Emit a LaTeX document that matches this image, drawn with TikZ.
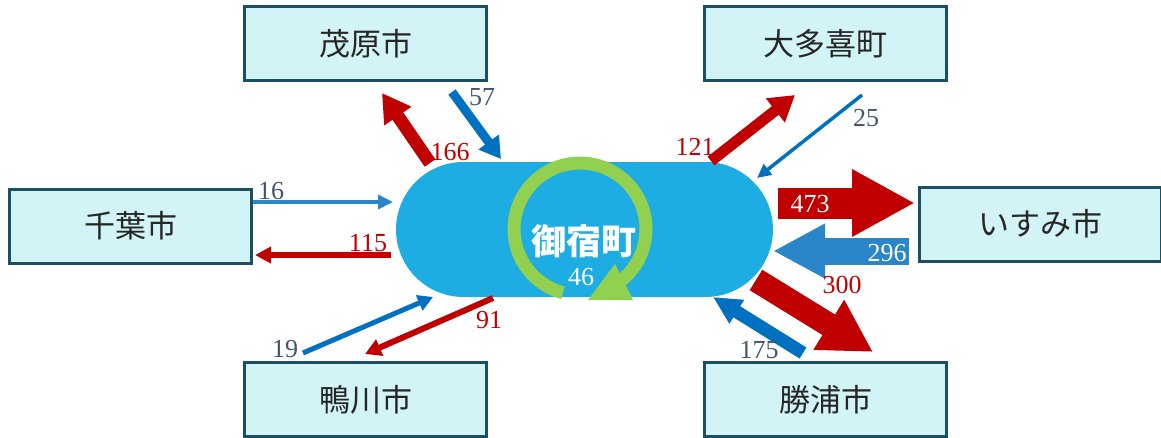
\documentclass[tikz,border=0pt]{standalone}
\usepackage{fontspec}
\setmainfont{Liberation Serif}
\newfontfamily\jp{Noto Sans CJK JP}
\usetikzlibrary{arrows.meta}
\definecolor{boxfill}{HTML}{D3F4F6}
\definecolor{boxline}{HTML}{1B4F63}
\definecolor{hub}{HTML}{1EADE2}
\definecolor{ring}{HTML}{92D050}
\definecolor{outred}{HTML}{C00000}
\definecolor{inblue}{HTML}{0070C0}
\definecolor{inblueL}{HTML}{2A86C9}
\definecolor{numgrey}{HTML}{44546A}
\tikzset{
  city/.style={draw=boxline, fill=boxfill, line width=3pt, minimum width=242pt, minimum height=74pt, inner sep=0pt, font=\jp\fontsize{31}{36}\selectfont, text=black!85},
  flow/.style n args={4}{draw=#4, line width=#1, -{Triangle[width=#2,length=#3]}},
  num/.style={font=\fontsize{26}{28}\selectfont, inner sep=0pt},
}
\begin{document}
\begin{tikzpicture}[x=1pt,y=-1pt]
\useasboundingbox (0,0) rectangle (1161,437);
% boxes
\node[city] (mobara) at (365.5,43.5) {茂原市};
\node[city] (otaki) at (825.5,43.5) {大多喜町};
\node[city] (chiba) at (130.5,226) {千葉市};
\node[city] (isumi) at (1040,224) {いすみ市};
\node[city] (kamo) at (365.5,399.5) {鴨川市};
\node[city] (katsu) at (825.5,399.5) {勝浦市};
% hub
\node[fill=hub, rounded corners=67.5pt, minimum width=377pt, minimum height=135pt, inner sep=0pt] (hub) at (584.5,229.5) {};
% ring arrow
\draw[ring, line width=13pt] plot[domain=105:411, samples=80, smooth] ({580+66*cos(\x)}, {229+66*sin(\x)});
\fill[ring] (588,300) -- (633,300) -- (615,264) -- cycle;
\node[font=\jp\bfseries\fontsize{35}{38}\selectfont, text=white, inner sep=0pt] (hubname) at (584,241) {御宿町};
\node[num, text=white] (self) at (581,277) {46};
% coordinates
\coordinate (a1) at (430,163); \coordinate (b1) at (382,93);
\coordinate (a2) at (452,92);  \coordinate (b2) at (501,159);
\coordinate (a3) at (711,161); \coordinate (b3) at (795,95);
\coordinate (a4) at (862,95);  \coordinate (b4) at (757,178);
\coordinate (a5) at (253,202); \coordinate (b5) at (393,202);
\coordinate (a6) at (391,255); \coordinate (b6) at (255,255);
\coordinate (a7) at (778,203); \coordinate (b7) at (915,203);
\coordinate (a8) at (909,251); \coordinate (b8) at (773,251);
\coordinate (a9) at (756,280); \coordinate (b9) at (873,352);
\coordinate (a10) at (803,353); \coordinate (b10) at (713,297);
\coordinate (a11) at (303,353); \coordinate (b11) at (433,297);
\coordinate (a12) at (493,298); \coordinate (b12) at (365,354);
% flows
\draw[flow={13pt}{31pt}{28pt}{outred}] (a1) -- (b1);
\draw[flow={9pt}{24pt}{21pt}{inblue}] (a2) -- (b2);
\draw[flow={11pt}{29pt}{25pt}{outred}] (a3) -- (b3);
\draw[flow={3.5pt}{13pt}{14pt}{inblue}] (a4) -- (b4);
\draw[flow={4pt}{14pt}{15pt}{inblueL}] (a5) -- (b5);
\draw[flow={6pt}{16pt}{16pt}{outred}] (a6) -- (b6);
\draw[flow={31pt}{63pt}{63pt}{outred}] (a7) -- (b7);
\draw[flow={27pt}{51pt}{52pt}{inblueL}] (a8) -- (b8);
\draw[flow={24pt}{55pt}{52pt}{outred}] (a9) -- (b9);
\draw[flow={13pt}{26pt}{28pt}{inblue}] (a10) -- (b10);
\draw[flow={5pt}{16pt}{15pt}{inblue}] (a11) -- (b11);
\draw[flow={6pt}{17pt}{16pt}{outred}] (a12) -- (b12);
% labels
\node[num, text=outred] (l1) at (450,152) {166};
\node[num, text=numgrey] (l2) at (482,97) {57};
\node[num, text=outred] (l3) at (695,147) {121};
\node[num, text=numgrey] (l4) at (866,118) {25};
\node[num, text=numgrey] (l5) at (271,191) {16};
\node[num, text=outred] (l6) at (368,243) {115};
\node[num, text=white] (l7) at (810,204) {473};
\node[num, text=white] (l8) at (887,253) {296};
\node[num, text=outred] (l9) at (842,285) {300};
\node[num, text=numgrey] (l10) at (759,350) {175};
\node[num, text=numgrey] (l11) at (285,349) {19};
\node[num, text=outred] (l12) at (489,320) {91};
\end{tikzpicture}
\end{document}
